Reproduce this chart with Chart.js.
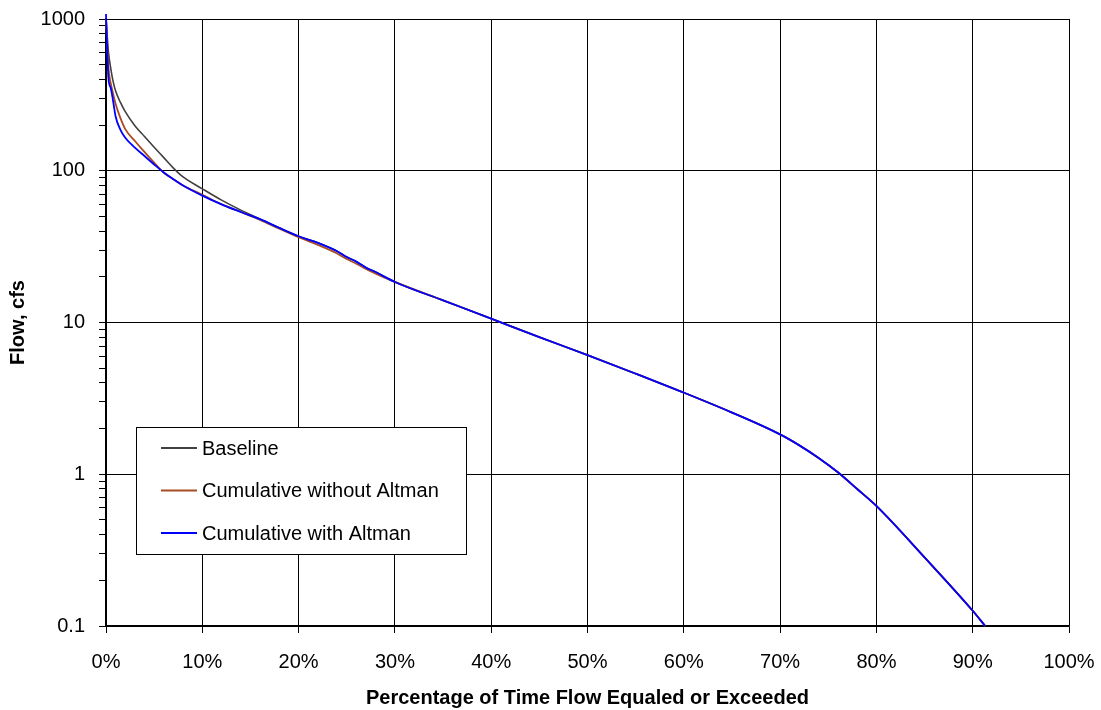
<!DOCTYPE html>
<html lang="en">
<head>
    <meta charset="UTF-8">
    <title>Flow Duration Curve</title>
    <script src="https://cdn.jsdelivr.net/npm/chart.js"></script>
    <style>
        html, body { margin: 0; padding: 0; background: #FFFFFF; }
        .chart-box { width: 1101px; height: 710px; position: relative; }
    </style>
</head>
<body>
    <div class="chart-box">
        <canvas id="flowDurationCanvas"></canvas>
    </div>

    <script>
        // percent of time flow equaled or exceeded
        const pct = [0, 0.25, 0.5, 0.75, 1, 1.5, 2, 3, 4, 5, 6, 7, 8, 10, 12, 14, 16, 18, 20, 22, 24, 25, 26, 27, 28, 30,
                     35, 40, 45, 50, 55, 60, 65, 70, 72, 74, 76, 78, 80, 85, 90, 91.3];

        // flow, cfs
        const baseline = [1000, 610, 470, 385, 335, 282, 245, 198, 168, 143, 122, 104, 91, 76, 64, 55, 48, 42, 37,
                          33.5, 29.5, 27, 25.2, 23, 21.5, 18.5,
                          14.0, 10.6, 8.0, 6.1, 4.6, 3.45, 2.55, 1.83, 1.55, 1.28, 1.03, 0.80, 0.618, 0.283, 0.126, 0.1];
        const withoutAltman = [1000, 480, 375, 320, 275, 222, 188, 157, 133, 113, 97, 88, 80, 69.5, 60, 53.5, 47.5, 41.5, 36.5,
                               32.5, 28.5, 26.2, 24.4, 22.5, 21, 18.5,
                               14.0, 10.6, 8.0, 6.1, 4.6, 3.45, 2.55, 1.83, 1.55, 1.28, 1.03, 0.80, 0.618, 0.283, 0.126, 0.1];
        const withAltman = [1080, 410, 350, 285, 228, 186, 165, 142, 125, 110, 97.5, 88, 80, 68.6, 60, 53.5, 48, 42, 37,
                            33.5, 29.5, 27, 25.2, 23, 21.5, 18.5,
                            14.0, 10.6, 8.0, 6.1, 4.6, 3.45, 2.55, 1.83, 1.55, 1.28, 1.03, 0.80, 0.618, 0.283, 0.126, 0.1];

        const seriesNames = ['Baseline', 'Cumulative without Altman', 'Cumulative with Altman'];
        const seriesColors = ['#404040', '#A84C22', '#0000FF'];

        const xTicks = [0, 10, 20, 30, 40, 50, 60, 70, 80, 90, 100];
        const yDecades = [0.1, 1, 10, 100, 1000];

        const FONT = 'Liberation Sans, Arial, sans-serif';

        function isDecade(v) {
            const l = Math.log10(v);
            return Math.abs(l - Math.round(l)) < 1e-9;
        }

        function toPoints(ys) {
            return pct.map((x, i) => ({ x: x, y: ys[i] }));
        }

        // legend box drawn inside the plot area
        const boxLegend = {
            id: 'boxLegend',
            afterDatasetsDraw(chart) {
                const ctx = chart.ctx;
                const a = chart.chartArea;
                const x0 = a.left + 30, y0 = a.top + 408, w = 330, h = 127;
                ctx.save();
                ctx.fillStyle = '#FFFFFF';
                ctx.fillRect(x0, y0, w, h);
                ctx.strokeStyle = '#000000';
                ctx.lineWidth = 1;
                ctx.strokeRect(x0 + 0.5, y0 + 0.5, w, h);
                ctx.font = '20px ' + FONT;
                ctx.textBaseline = 'middle';
                ctx.textAlign = 'left';
                seriesNames.forEach((name, i) => {
                    const yy = y0 + 21 + i * 42.5;
                    ctx.strokeStyle = seriesColors[i];
                    ctx.lineWidth = 2;
                    ctx.beginPath();
                    ctx.moveTo(x0 + 25, yy);
                    ctx.lineTo(x0 + 61, yy);
                    ctx.stroke();
                    ctx.fillStyle = '#000000';
                    ctx.fillText(name, x0 + 66, yy + 1);
                });
                ctx.restore();
            }
        };

        const ctxFD = document.getElementById('flowDurationCanvas').getContext('2d');

        new Chart(ctxFD, {
            type: 'line',
            data: {
                datasets: [
                    { label: seriesNames[0], data: toPoints(baseline), borderColor: seriesColors[0], borderWidth: 1.6, order: 2 },
                    { label: seriesNames[1], data: toPoints(withoutAltman), borderColor: seriesColors[1], borderWidth: 1.8, order: 1 },
                    { label: seriesNames[2], data: toPoints(withAltman), borderColor: seriesColors[2], borderWidth: 1.8, order: 0 }
                ]
            },
            options: {
                responsive: true,
                maintainAspectRatio: false,
                animation: false,
                layout: { padding: { left: 0, right: 32, top: 19, bottom: 0 } },
                elements: {
                    point: { radius: 0 },
                    line: { cubicInterpolationMode: 'monotone', fill: false }
                },
                datasets: { line: { clip: false } },
                scales: {
                    x: {
                        type: 'linear',
                        min: 0,
                        max: 100,
                        afterFit(scale) {
                            scale.height = 84;
                            scale.paddingLeft = 0;
                            scale.paddingRight = 0;
                        },
                        afterBuildTicks(scale) { scale.ticks = xTicks.map(v => ({ value: v })); },
                        grid: { color: '#000000', lineWidth: 1, tickLength: 7, tickColor: '#000000' },
                        border: { color: '#000000', width: 1.5 },
                        ticks: {
                            color: '#000000',
                            font: { family: FONT, size: 20 },
                            padding: 17,
                            maxRotation: 0,
                            autoSkip: false,
                            callback: v => v + '%'
                        },
                        title: {
                            display: true,
                            text: 'Percentage of Time Flow Equaled or Exceeded',
                            color: '#000000',
                            font: { family: FONT, size: 20, weight: 'bold' },
                            padding: { top: 0, bottom: 0 }
                        }
                    },
                    y: {
                        type: 'logarithmic',
                        min: 0.1,
                        max: 1000,
                        afterFit(scale) {
                            scale.width = 106;
                            scale.paddingTop = 0;
                            scale.paddingBottom = 0;
                        },
                        afterBuildTicks(scale) {
                            const t = [];
                            yDecades.forEach((d, i) => {
                                if (i === yDecades.length - 1) { t.push({ value: d }); return; }
                                for (let m = 1; m <= 9; m++) t.push({ value: Number((m * d).toPrecision(6)) });
                            });
                            scale.ticks = t;
                        },
                        grid: {
                            color: c => (c.tick && isDecade(c.tick.value)) ? '#000000' : 'rgba(0,0,0,0)',
                            lineWidth: 1,
                            tickLength: 7,
                            tickColor: '#000000'
                        },
                        border: { color: '#000000', width: 1.5 },
                        ticks: {
                            color: '#000000',
                            font: { family: FONT, size: 20 },
                            padding: 14,
                            autoSkip: false,
                            callback: v => isDecade(v) ? String(v) : ''
                        },
                        title: {
                            display: true,
                            text: 'Flow, cfs',
                            color: '#000000',
                            font: { family: FONT, size: 20, weight: 'bold' },
                            padding: { top: 6, bottom: 0 }
                        }
                    }
                },
                plugins: {
                    legend: { display: false },
                    tooltip: { enabled: false }
                }
            },
            plugins: [boxLegend]
        });
    </script>
</body>
</html>
